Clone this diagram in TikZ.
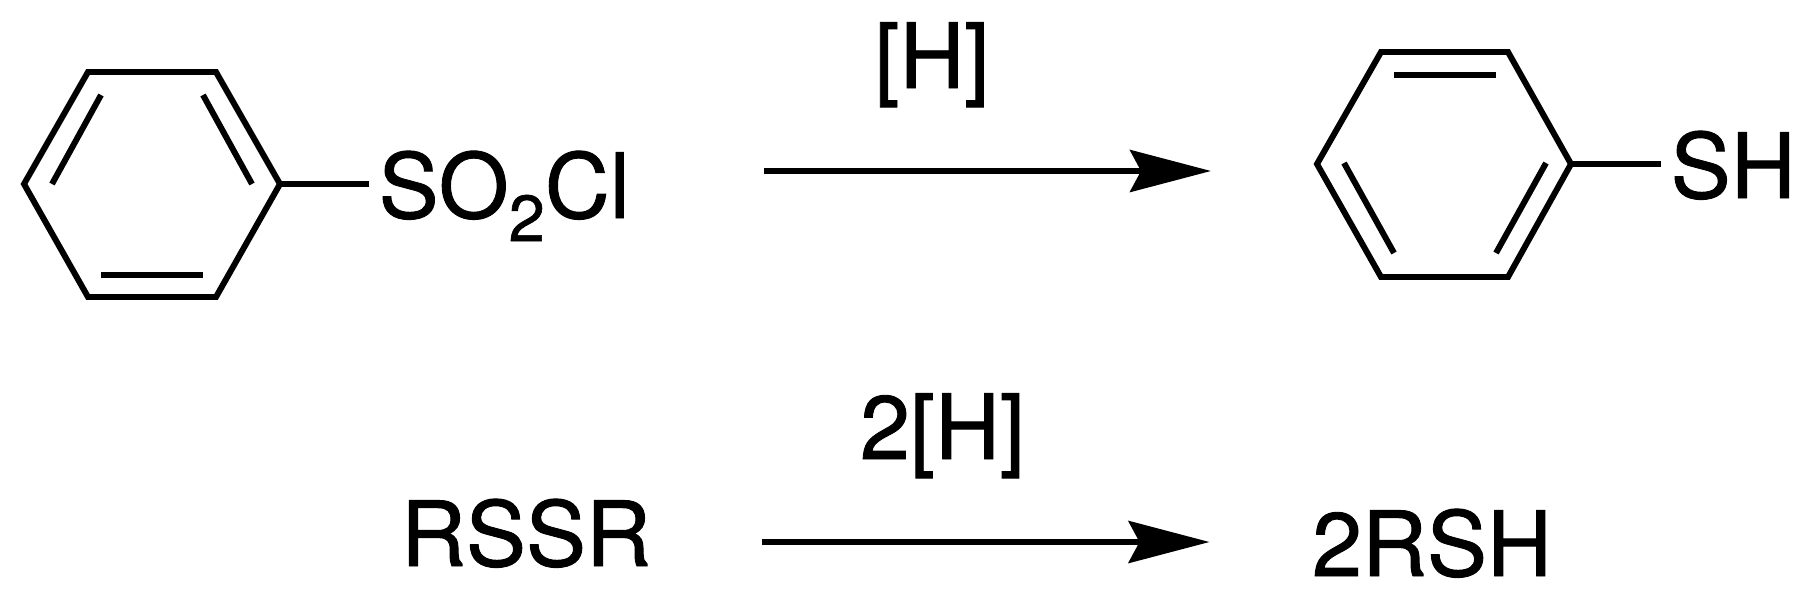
\documentclass[tikz,border=0pt]{standalone}
\usepackage{fontspec}
\setmainfont[FakeBold=1]{TeX Gyre Heros}
\usetikzlibrary{arrows.meta}
\tikzset{bond/.style={draw,line width=1.7pt}}
\tikzset{rxn arrow/.style={draw,line width=1.7pt,-{Stealth[length=8.1mm,width=4.2mm,inset=1.1mm]}}}
\begin{document}
\begin{tikzpicture}
	[   chem/.style={inner sep=0.9mm,font=\fontsize{25.6}{30}\selectfont},
	]
	\useasboundingbox (0,0) rectangle (18.11,6.14);
	
	% left ring
	\foreach \n/\x/\y in {1/2.80/4.30,2/2.16/5.42,3/0.88/5.42,4/0.24/4.30,5/0.88/3.17,6/2.16/3.17}
	{
		\coordinate (a-\n) at (\x,\y);
	}
	\path[bond] (a-1) -- (a-2) -- (a-3) -- (a-4) -- (a-5) -- (a-6) -- cycle;
	\coordinate (a-12) at (2.03,5.19);
	\coordinate (a-21) at (2.52,4.30);
	\coordinate (a-34) at (1.01,5.19);
	\coordinate (a-43) at (0.52,4.30);
	\coordinate (a-56) at (1.01,3.39);
	\coordinate (a-65) at (2.03,3.39);
	\path[bond] (a-12) -- (a-21);
	\path[bond] (a-34) -- (a-43);
	\path[bond] (a-56) -- (a-65);
	\node[chem,anchor=base west] (sulfonyl) at (3.69,3.96) {SO\raisebox{-0.23cm}{\fontsize{18.5}{20}\selectfont 2}Cl};
	\path[bond] (a-1) -- (a-1 -| sulfonyl.west);
	
	% right ring
	\foreach \n/\x/\y in {1/15.71/4.50,2/15.08/5.62,3/13.81/5.62,4/13.17/4.50,5/13.81/3.37,6/15.08/3.37}
	{
		\coordinate (b-\n) at (\x,\y);
	}
	\path[bond] (b-1) -- (b-2) -- (b-3) -- (b-4) -- (b-5) -- (b-6) -- cycle;
	\coordinate (b-23) at (14.96,5.39);
	\coordinate (b-32) at (13.94,5.39);
	\coordinate (b-45) at (13.44,4.51);
	\coordinate (b-54) at (13.94,3.61);
	\coordinate (b-61) at (14.96,3.61);
	\coordinate (b-16) at (15.46,4.51);
	\path[bond] (b-23) -- (b-32);
	\path[bond] (b-45) -- (b-54);
	\path[bond] (b-61) -- (b-16);
	\node[chem,anchor=base west] (thiol) at (16.61,4.16) {SH};
	\path[bond] (b-1) -- (b-1 -| thiol.west);
	
	% reactions
	\coordinate (r-1) at (7.64,4.43);
	\coordinate (p-1) at (12.11,4.43);
	\path[rxn arrow] (r-1) -- (p-1);
	\node[chem,anchor=base] (h-1) at (9.32,5.26) {[H]};
	
	\node[chem,anchor=base] (rssr) at (5.26,0.48) {RSSR};
	\node[chem,anchor=base] (rsh) at (14.32,0.38) {2RSH};
	\coordinate (r-2) at (7.62,0.72);
	\coordinate (p-2) at (12.095,0.72);
	\path[rxn arrow] (r-2) -- (p-2);
	\node[chem,anchor=base] (h-2) at (9.425,1.55) {2[H]};
\end{tikzpicture}
\end{document}
